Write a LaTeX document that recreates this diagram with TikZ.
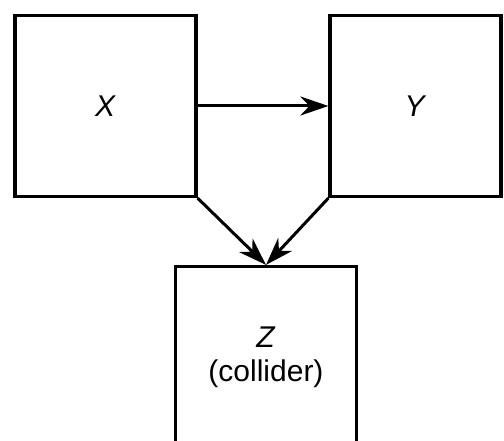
\documentclass[tikz,border=0pt]{standalone}
\usepackage{fontspec}
\setmainfont{Liberation Sans}
\usetikzlibrary{positioning,arrows.meta}

\begin{document}
\begin{tikzpicture}[x=1pt, y=1pt,
    varbox/.style={draw, line width=3.2pt, minimum width=181pt, minimum height=181pt, inner sep=0pt, align=center, font=\fontsize{30}{34}\selectfont},
    link/.style={-{Stealth[length=28pt, width=19pt, inset=9pt]}, line width=3pt}]
    \useasboundingbox (0,0) rectangle (504,-441);
    \clip (0,0) rectangle (504,-441);

    \node[varbox] (x) at (105.5,-106) {\textit{X}};
    \node[varbox, minimum width=171pt] (y) at (415.5,-106) {\textit{Y}};
    \node[varbox] (z) at (266,-357) {\textit{Z}\\(collider)};

    % X -> Y, and both into the collider
    \draw[link] (x.east) -- (y.west);
    \draw[link] (x.south east) -- (z.north);
    \draw[link] (y.south west) -- (z.north);
\end{tikzpicture}
\end{document}
